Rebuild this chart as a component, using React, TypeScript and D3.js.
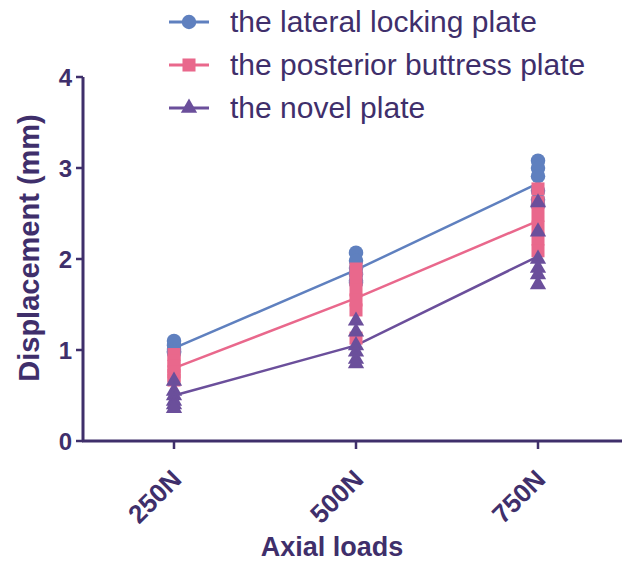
import React, { useEffect, useRef } from 'react';
import * as d3 from 'd3';

// categories on the x axis
const loads = ['250N', '500N', '750N'];

// individual displacement values (mm) per load
const lateralPoints = [
  [1.10, 1.05, 1.01, 0.99, 0.98, 0.97],
  [2.07, 1.98, 1.90, 1.83, 1.76, 1.74],
  [3.08, 3.00, 2.91, 2.75, 2.65, 2.59],
];
const posteriorPoints = [
  [0.95, 0.88, 0.82, 0.76, 0.72, 0.67],
  [1.89, 1.78, 1.66, 1.55, 1.44, 1.13],
  [2.77, 2.62, 2.48, 2.35, 2.22, 2.09],
];
const novelPoints = [
  [0.66, 0.55, 0.50, 0.44, 0.40, 0.36],
  [1.32, 1.20, 1.05, 0.98, 0.90, 0.85],
  [2.62, 2.30, 2.00, 1.90, 1.83, 1.72],
];

// mean lines
const lateralMean = [1.02, 1.88, 2.83];
const posteriorMean = [0.80, 1.57, 2.42];
const novelMean = [0.50, 1.05, 2.03];

const yTicks = [0, 1, 2, 3, 4];

const seriesNames = ['the lateral locking plate', 'the posterior buttress plate', 'the novel plate'];

export default function App() {
  const svgRef = useRef<SVGSVGElement>(null);

  useEffect(() => {
    if (!svgRef.current) return;
    const width = 624;
    const height = 561;
    const axisColor = '#3f2f6b';
    const font = '"Liberation Sans", Arial, sans-serif';

    const svg = d3.select(svgRef.current);
    svg.selectAll('*').remove();
    svg.attr('width', width).attr('height', height).style('background', '#fff');

    const x = d3.scalePoint<string>().domain(loads).range([83, 629]).padding(0.5);
    const y = d3.scaleLinear().domain([0, 4]).range([441, 77]);

    const series = [
      { name: seriesNames[0], color: '#5f80bf', shape: 'circle', points: lateralPoints, mean: lateralMean },
      { name: seriesNames[1], color: '#e9688c', shape: 'square', points: posteriorPoints, mean: posteriorMean },
      { name: seriesNames[2], color: '#6b4f9b', shape: 'triangle', points: novelPoints, mean: novelMean },
    ];

    const symbolFor = (shape: string) => {
      if (shape === 'circle') return d3.symbol().type(d3.symbolCircle).size(165)();
      if (shape === 'square') return d3.symbol().type(d3.symbolSquare).size(170)();
      return d3.symbol().type(d3.symbolTriangle).size(115)();
    };

    // mean lines
    const line = d3.line<number>()
      .x((_, i) => x(loads[i]) as number)
      .y(d => y(d));
    series.forEach(s => {
      svg.append('path')
        .attr('d', line(s.mean))
        .attr('fill', 'none')
        .attr('stroke', s.color)
        .attr('stroke-width', 2.5);
    });

    // individual points
    series.forEach(s => {
      const path = symbolFor(s.shape);
      s.points.forEach((vals, i) => {
        vals.forEach(v => {
          svg.append('path')
            .attr('d', path)
            .attr('transform', `translate(${x(loads[i])},${y(v)})`)
            .attr('fill', s.color);
        });
      });
    });

    // y axis
    svg.append('line')
      .attr('x1', 83).attr('x2', 83)
      .attr('y1', y(4)).attr('y2', y(0))
      .attr('stroke', axisColor).attr('stroke-width', 3);
    yTicks.forEach(t => {
      svg.append('line')
        .attr('x1', 76).attr('x2', 83)
        .attr('y1', y(t)).attr('y2', y(t))
        .attr('stroke', axisColor).attr('stroke-width', 2.5);
      svg.append('text')
        .attr('x', 72).attr('y', y(t) + 8.5)
        .attr('text-anchor', 'end')
        .attr('font-family', font).attr('font-weight', 'bold').attr('font-size', 24)
        .attr('fill', axisColor)
        .text(t);
    });
    svg.append('text')
      .attr('transform', `translate(39,248) rotate(-90)`)
      .attr('text-anchor', 'middle')
      .attr('font-family', font).attr('font-weight', 'bold').attr('font-size', 29)
      .attr('fill', axisColor)
      .text('Displacement (mm)');

    // x axis
    svg.append('line')
      .attr('x1', 82).attr('x2', 622)
      .attr('y1', y(0)).attr('y2', y(0))
      .attr('stroke', axisColor).attr('stroke-width', 3);
    loads.forEach(l => {
      const cx = x(l) as number;
      svg.append('line')
        .attr('x1', cx).attr('x2', cx)
        .attr('y1', y(0)).attr('y2', y(0) + 8)
        .attr('stroke', axisColor).attr('stroke-width', 2.5);
      svg.append('text')
        .attr('transform', `translate(${cx + 9},${y(0) + 40}) rotate(-45)`)
        .attr('text-anchor', 'end')
        .attr('font-family', font).attr('font-weight', 'bold').attr('font-size', 26)
        .attr('fill', axisColor)
        .text(l);
    });
    svg.append('text')
      .attr('x', 332).attr('y', 556)
      .attr('text-anchor', 'middle')
      .attr('font-family', font).attr('font-weight', 'bold').attr('font-size', 27)
      .attr('fill', axisColor)
      .text('Axial loads');

    // legend
    series.forEach((s, i) => {
      const ly = 22 + i * 43;
      svg.append('line')
        .attr('x1', 169).attr('x2', 209)
        .attr('y1', ly).attr('y2', ly)
        .attr('stroke', s.color).attr('stroke-width', 3);
      svg.append('path')
        .attr('d', symbolFor(s.shape))
        .attr('transform', `translate(189,${ly})`)
        .attr('fill', s.color);
      svg.append('text')
        .attr('x', 230).attr('y', ly + 10)
        .attr('font-family', font).attr('font-size', 30)
        .attr('fill', axisColor)
        .text(s.name);
    });
  }, []);

  return (
    <div style={{ position: 'absolute', left: 0, top: 0 }}>
      <svg ref={svgRef}></svg>
    </div>
  );
}
